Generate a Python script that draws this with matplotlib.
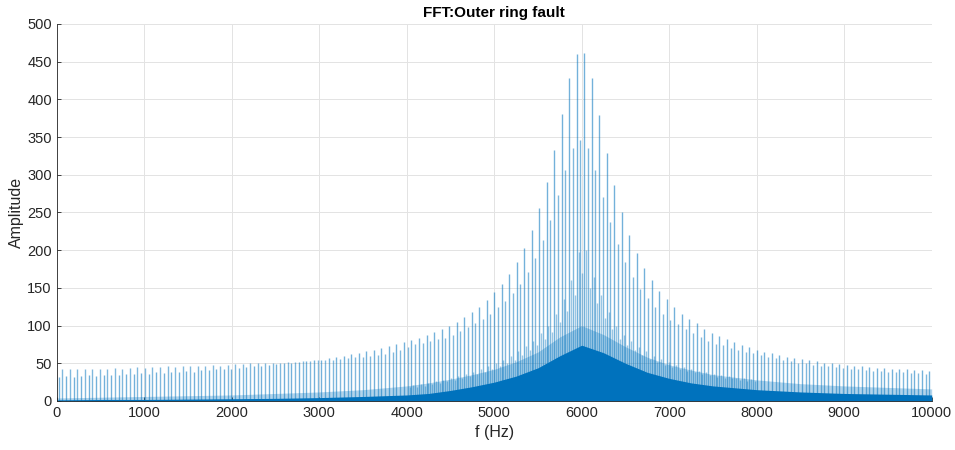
import matplotlib.pyplot as plt
import numpy as np

plt.rcParams['font.family'] = ['Liberation Sans', 'DejaVu Sans']

# spectral lines, spaced 42.9 Hz apart starting at 22 Hz
f_first = 22.0
df = 42.9

# amplitudes of the even-numbered lines (22, 108, 194, ... Hz)
amp_even = [32, 33, 32, 33, 34, 33, 35, 34, 35, 36,
            36, 37, 36, 38, 37, 39, 38, 40, 39, 41,
            41, 42, 42, 43, 44, 45, 46, 47, 48, 49,
            50, 51, 52, 53, 54, 55, 57, 58, 60, 62,
            64, 66, 68, 70, 73, 75, 78, 81, 84, 87,
            91, 95, 100, 105, 111, 118, 125, 134, 144, 155,
            168, 184, 203, 227, 256, 290, 333, 380, 428, 460,
            461, 428, 379, 329, 286, 250, 220, 196, 176, 160,
            146, 135, 125, 116, 109, 103, 96, 90, 86, 82,
            78, 74, 71, 68, 65, 63, 61, 59, 57, 56,
            54, 53, 51, 50, 49, 48, 47, 46, 45, 44,
            44, 43, 42, 42, 41, 41, 40]

# amplitudes of the odd-numbered lines (65, 151, 237, ... Hz)
amp_odd = [42, 43, 42, 43, 42, 43, 43, 44, 43, 44,
           45, 44, 45, 45, 46, 45, 46, 47, 46, 47,
           48, 47, 48, 49, 49, 50, 50, 51, 51, 51,
           52, 52, 53, 53, 54, 55, 55, 56, 57, 58,
           59, 60, 61, 62, 65, 68, 72, 75, 77, 80,
           82, 84, 88, 93, 98, 103, 109, 115, 124, 133,
           143, 155, 171, 189, 213, 240, 273, 307, 335, 346,
           336, 307, 271, 237, 208, 184, 165, 149, 137, 125,
           115, 107, 102, 95, 90, 85, 79, 76, 74, 70,
           68, 65, 63, 61, 59, 57, 55, 53, 51, 50,
           48, 47, 46, 45, 44, 43, 42, 41, 40, 40,
           39, 38, 38, 37, 37, 36]

# weaker lines sitting between the ones above, 4033 Hz to 7980 Hz
f_mid_first = 4033.0
amp_mid = [18, 21, 19, 22, 20, 24, 22, 26, 24, 28,
           26, 31, 28, 33, 30, 36, 33, 39, 36, 42,
           39, 46, 42, 50, 46, 55, 50, 60, 55, 66,
           61, 73, 67, 80, 74, 90, 82, 100, 92, 115,
           105, 135, 120, 160, 140, 198, 170, 200, 150, 165,
           130, 140, 110, 118, 95, 100, 82, 88, 74, 80,
           67, 72, 61, 66, 56, 60, 52, 56, 48, 52,
           45, 48, 42, 45, 40, 42, 38, 40, 36, 38,
           34, 36, 32, 34, 31, 33, 30, 31, 28, 30,
           27, 29, 26]

# broadband floor and the dense low-level content above it
f_env = [0, 500, 1000, 1500, 2000, 2500, 3000, 3500, 4000, 4250,
         4500, 4750, 5000, 5250, 5500, 5750, 6000, 6250, 6500, 6750,
         7000, 7250, 7500, 8000, 8500, 9000, 9500, 10000]
floor = [1.5, 2, 2, 2.5, 3, 3.5, 4.5, 6, 8, 10,
         14, 19, 25, 33, 44, 60, 74, 64, 50, 38,
         30, 24, 20, 15, 12, 10, 9, 8]
haze = [4, 5, 6, 7, 8, 10, 12, 15, 20, 24,
        29, 35, 42, 52, 65, 85, 100, 88, 72, 58,
        48, 41, 35, 28, 23, 20, 18, 16]

f_even = f_first + 2 * df * np.arange(len(amp_even))
f_odd = f_first + df + 2 * df * np.arange(len(amp_odd))
f_mid = f_mid_first + df * np.arange(len(amp_mid))

blue = '#0072BD'

fig = plt.figure(figsize=(9.55, 4.5), dpi=100)
ax = fig.add_axes([0.0594, 0.1089, 0.9162, 0.8378])

ax.fill_between(f_env, 0, haze, color=blue, alpha=0.3, linewidth=0)
ax.vlines(f_mid, 0, amp_mid, color=blue, linewidth=1.0, alpha=0.4)
ax.vlines(f_odd, 0, amp_odd, color=blue, linewidth=1.0, alpha=0.5)
ax.vlines(f_even, 0, amp_even, color=blue, linewidth=1.0, alpha=0.55)
ax.fill_between(f_env, 0, floor, color=blue, linewidth=0)

ax.set_xlim(0, 10000)
ax.set_ylim(0, 500)
ax.set_xticks(np.arange(0, 10001, 1000))
ax.set_yticks(np.arange(0, 501, 50))
ax.grid(True, color='#e3e3e3', linewidth=0.7)
ax.set_axisbelow(True)

for side in ['top', 'right']:
    ax.spines[side].set_visible(False)
for side in ['left', 'bottom']:
    ax.spines[side].set_color('#262626')
    ax.spines[side].set_linewidth(0.6)
ax.tick_params(direction='in', length=3, width=0.6, colors='#262626',
               labelsize=10.5)

ax.set_title('FFT:Outer ring fault', fontsize=11, fontweight='bold', pad=5)
ax.set_xlabel('f (Hz)', fontsize=11.5, color='#262626')
ax.set_ylabel('Amplitude', fontsize=11.5, color='#262626', labelpad=2)

fig.savefig('out.png', dpi=100)
